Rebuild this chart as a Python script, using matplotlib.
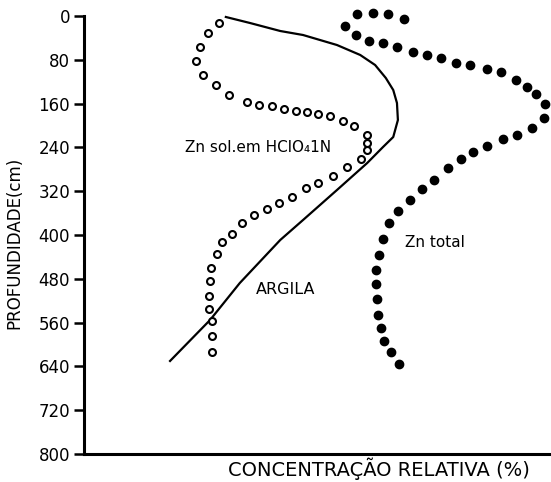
import matplotlib
matplotlib.use("Agg")
import matplotlib.pyplot as plt

# Relative concentration (0-100 across the x axis) and depth (cm)
zn_sol_x = [29.0, 26.7, 24.9, 24.1, 25.6, 28.4, 31.2, 35.1, 37.6, 40.4, 43.0, 45.6, 48.0,
            50.3, 52.9, 55.7, 58.1, 60.9, 60.9, 60.9, 59.6, 56.6, 53.5, 50.3, 47.7, 44.7,
            41.9, 39.4, 36.6, 34.0, 31.8, 29.7, 28.6, 27.3, 27.1, 26.9, 26.9, 27.5, 27.5, 27.5]
zn_sol_depth = [12.8, 31, 56.6, 82.2, 107.7, 126, 144.3, 157, 162.6, 164.4, 170, 173.5, 175.3,
                179, 182.6, 191.7, 200.9, 217.4, 232, 244.8, 261.2, 275.8, 292.3, 305, 314.2, 330.6,
                341.6, 352.5, 363.5, 378, 398.2, 412.8, 434.7, 460.3, 484, 511.5, 535.2, 557.1, 584.5, 613.7]

zn_total_x = [68.8, 65.4, 62.2, 58.7, 56.1, 58.5, 61.3, 64.3, 67.3, 70.8, 73.8, 76.8, 80.0,
              83.0, 86.7, 89.7, 92.9, 95.3, 97.2, 99.1, 98.9, 96.3, 93.1, 90.1, 86.7, 83.7,
              81.1, 78.3, 75.3, 72.7, 70.1, 67.5, 65.6, 64.3, 63.4, 62.8, 62.8, 63.0, 63.2,
              63.9, 64.5, 66.0, 67.7]
zn_total_depth = [5.5, -3.7, -5.5, -3.7, 18.3, 34.7, 45.7, 49.3, 56.6, 65.8, 71.2, 76.7, 85.8,
                  89.5, 96.8, 102.3, 116.9, 129.7, 142.5, 160.7, 186.3, 204.6, 217.4, 224.7, 237.4, 248.4,
                  261.2, 277.6, 299.5, 316, 336.1, 356.2, 378.1, 407.3, 436.5, 463.9, 489.5, 516.9, 546.1,
                  569.9, 593.6, 613.7, 635.6]

argila_x = [30.5, 35.7, 42.2, 47.1, 54.4, 59.4, 62.6, 64.9, 66.5, 67.3, 67.5, 66.5, 64.3,
            60.9, 54.4, 47.1, 42.2, 33.5, 27.1, 18.5]
argila_depth = [1.8, 12.8, 27.4, 34.7, 53, 71.2, 89.5, 113.2, 135.2, 158.9, 190, 221, 239.3,
                268.5, 317.8, 372.6, 409.1, 487.7, 555.3, 630.1]

yticks = [0, 80, 160, 240, 320, 400, 480, 560, 640, 720, 800]

fig = plt.figure(figsize=(5.51, 4.82), dpi=100)
ax = fig.add_axes([0.1525, 0.0581, 0.8439, 0.9087])

ax.plot(argila_x, argila_depth, color="black", lw=1.6, clip_on=False)
ax.plot(zn_sol_x, zn_sol_depth, linestyle="none", marker="o", markersize=5,
        markerfacecolor="white", markeredgecolor="black", markeredgewidth=1.5, clip_on=False)
ax.plot(zn_total_x, zn_total_depth, linestyle="none", marker="o", markersize=6,
        markerfacecolor="black", markeredgecolor="black", clip_on=False)

ax.set_xlim(0, 100)
ax.set_ylim(800, 0)
ax.set_yticks(yticks)
ax.set_yticklabels([str(t) for t in yticks])
ax.set_xticks([])
for s in ["top", "right"]:
    ax.spines[s].set_visible(False)
ax.spines["left"].set_linewidth(2.2)
ax.spines["bottom"].set_linewidth(2.2)
ax.tick_params(axis="y", direction="out", length=7, width=1.8, labelsize=12, pad=3)

ax.set_ylabel("PROFUNDIDADE(cm)", fontsize=12)
ax.yaxis.set_label_coords(-0.130, 0.482)
ax.set_xlabel("CONCENTRAÇÃO RELATIVA (%)", fontsize=14)
ax.xaxis.set_label_coords(0.634, -0.009)

ax.text(21.7, 240, "Zn sol.em HClO₄1N", fontsize=11, ha="left", va="center")
ax.text(69.0, 413, "Zn total", fontsize=11, ha="left", va="center")
ax.text(37.0, 500, "ARGILA", fontsize=11.5, ha="left", va="center")

fig.savefig("out.png", dpi=100)
